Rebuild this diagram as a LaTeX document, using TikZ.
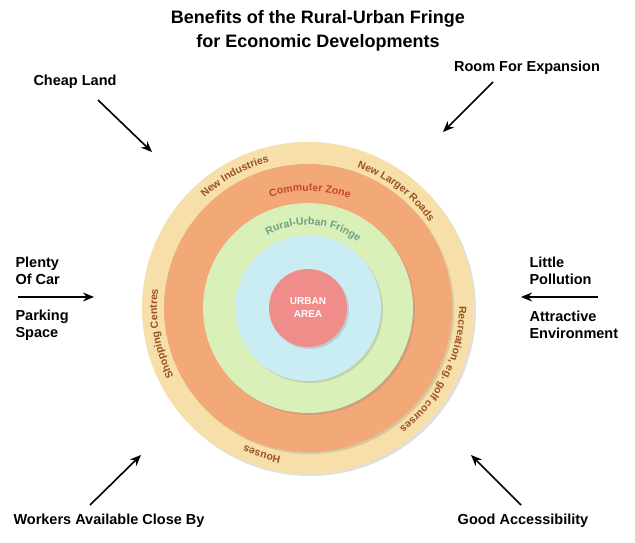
\documentclass[tikz,border=0pt]{standalone}
\usepackage{fontspec}
\setmainfont{Liberation Sans}
\usetikzlibrary{decorations.text,shadows,arrows.meta}
\definecolor{ringout}{HTML}{F6DFA8}
\definecolor{ringcom}{HTML}{F2A877}
\definecolor{ringfri}{HTML}{D9F0B8}
\definecolor{ringblu}{HTML}{C9EDF3}
\definecolor{ringurb}{HTML}{F08C8A}
\definecolor{txtout}{HTML}{9A5226}
\definecolor{txtcom}{HTML}{C9442B}
\definecolor{txtfri}{HTML}{6E9F83}
\tikzset{
  ring/.style={circle, inner sep=0pt, drop shadow={shadow xshift=2pt, shadow yshift=-2pt, opacity=0.25}},
  lbl/.style={font=\bfseries\fontsize{14.5}{17}\selectfont, align=left},
  arr/.style={-{Stealth[length=11pt,width=9pt]}, line width=1.6pt},
  curv/.style={decorate, decoration={text along path, text align=center, text={#1}}}
}
\begin{document}
\begin{tikzpicture}[x=1pt,y=1pt]
\useasboundingbox (0,0) rectangle (635,543);
%\draw [lightgray](0,0) grid[step=50] (635,543);

% rings
\node [ring, fill=ringout, minimum size=332] (outer) at (308,235) {};
\node [ring, fill=ringcom, minimum size=288] (commuter) at (308,235) {};
\node [ring, fill=ringfri, minimum size=210] (fringe) at (308,235) {};
\node [ring, fill=ringblu, minimum size=146] (inner) at (308,235) {};
\node [ring, fill=ringurb, minimum size=78, text=white, align=center,
       font=\bfseries\fontsize{10}{13}\selectfont] (urban) at (308,235) {URBAN\\AREA};

% ring labels
\path [curv={|\bfseries\fontsize{10.5}{11}\selectfont\color{txtout}|New Industries}]
  (urban.center) ++(140:151) arc[start angle=140, end angle=98, radius=151];
\path [curv={|\bfseries\fontsize{10.5}{11}\selectfont\color{txtout}|New Larger Roads}]
  (urban.center) ++(78:149) arc[start angle=78, end angle=28, radius=149];
\path [curv={|\bfseries\fontsize{10.5}{11}\selectfont\color{txtout}|Shopping Centres}]
  (urban.center) ++(214:151) arc[start angle=214, end angle=166, radius=151];
\path [curv={|\bfseries\fontsize{10.5}{11}\selectfont\color{txtout}|Houses}]
  (urban.center) ++(264:151) arc[start angle=264, end angle=241, radius=151];
\path [curv={|\bfseries\fontsize{10.5}{11}\selectfont\color{txtout}|Recreation, eg. golf courses}]
  (urban.center) ++(10:151) arc[start angle=10, end angle=-62, radius=151];
\path [curv={|\bfseries\fontsize{10.5}{11}\selectfont\color{txtcom}|Commuter Zone}]
  (urban.center) ++(110:117) arc[start angle=110, end angle=68, radius=117];
\path [curv={|\bfseries\fontsize{10.5}{11}\selectfont\color{txtfri}|Rural-Urban Fringe}]
  (urban.center) ++(120:83) arc[start angle=120, end angle=52, radius=83];

% title
\node [font=\bfseries\fontsize{18}{24}\selectfont, align=center] (title) at (318,512)
  {Benefits of the Rural-Urban Fringe\\for Economic Developments};

% benefits
\node [lbl] (cheap) at (75,461) {Cheap Land};
\node [lbl] (room) at (527,475) {Room For Expansion};
\node [lbl, anchor=west] (plenty) at (12,272) {Plenty\\Of Car};
\node [lbl, anchor=west] (parking) at (12,218) {Parking\\Space};
\node [lbl, anchor=west] (little) at (526,272) {Little\\Pollution};
\node [lbl, anchor=west] (attract) at (526,218) {Attractive\\Environment};
\node [lbl] (workers) at (109,22) {Workers Available Close By};
\node [lbl] (access) at (523,22) {Good Accessibility};

% arrows
\coordinate (a1) at (98,443);  \coordinate (b1) at (152,391);
\coordinate (a2) at (493,461); \coordinate (b2) at (443,411);
\coordinate (a3) at (18,246);  \coordinate (b3) at (94,246);
\coordinate (a4) at (598,246); \coordinate (b4) at (521,246);
\coordinate (a5) at (90,38);   \coordinate (b5) at (141,88);
\coordinate (a6) at (521,38);  \coordinate (b6) at (471,88);
\foreach \i in {1,...,6}
  \draw [arr] (a\i) -- (b\i);
\end{tikzpicture}
\end{document}
